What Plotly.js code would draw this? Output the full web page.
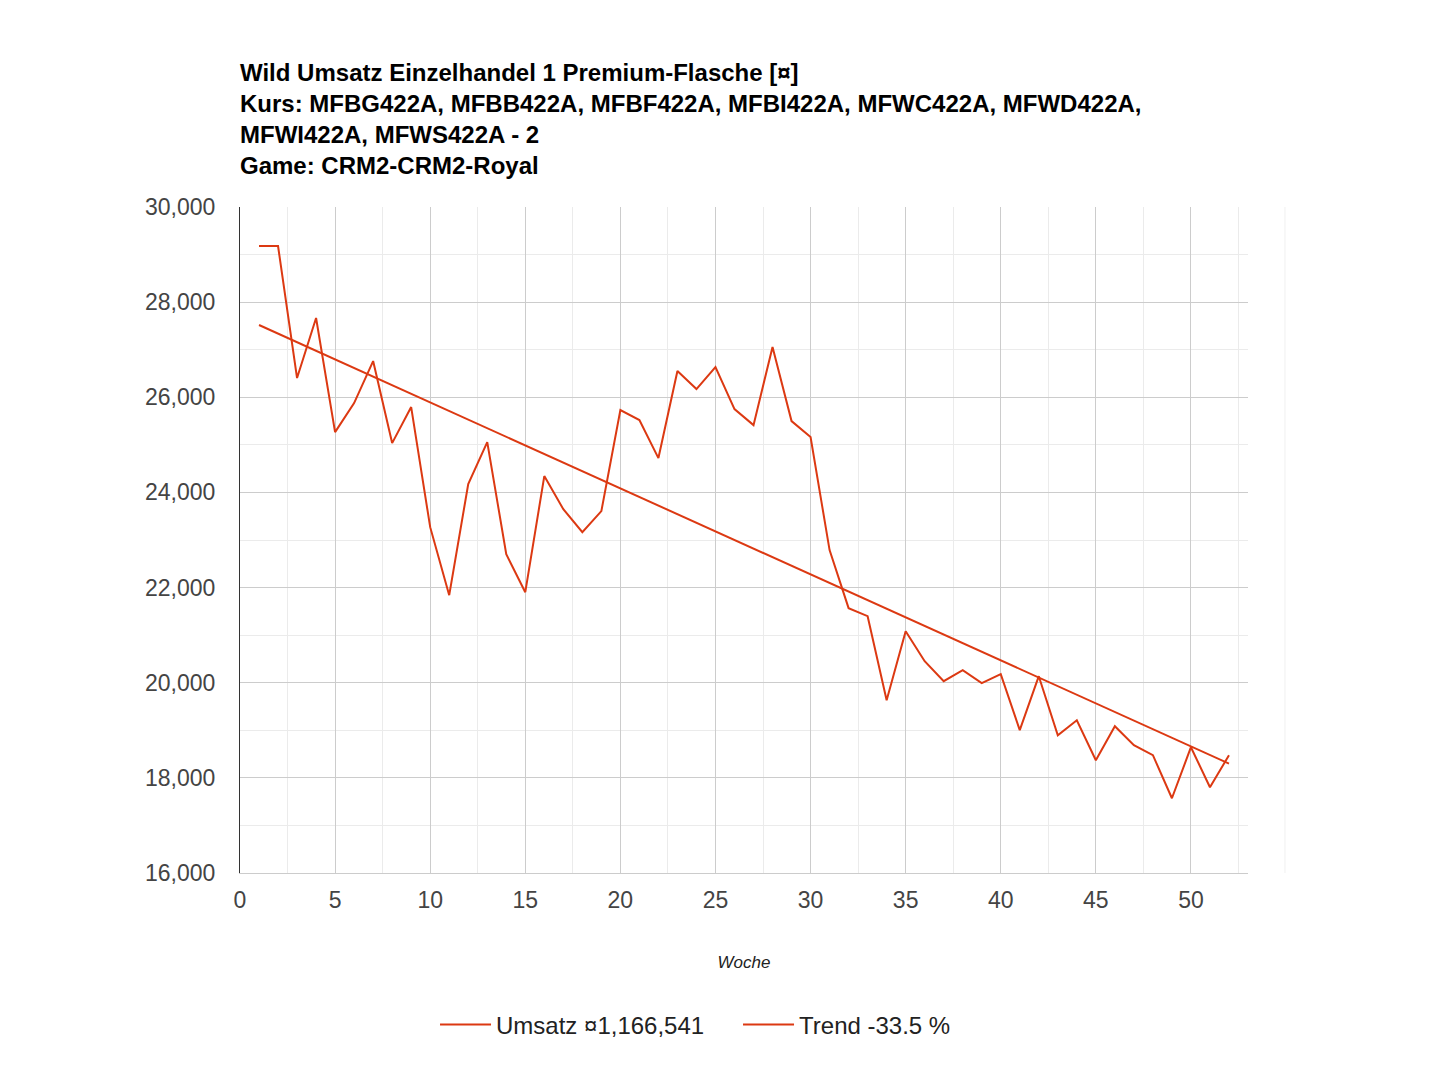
<!DOCTYPE html>
<html>
<head>
<meta charset="utf-8">
<script src="https://cdn.plot.ly/plotly-3.0.1.min.js"></script>
<style>
  html, body { margin: 0; padding: 0; background: #fff; }
  #chart { width: 1440px; height: 1080px; }
</style>
</head>
<body>
<div id="chart"></div>
<script>
var weeks = [1, 2, 3, 4, 5, 6, 7, 8, 9, 10,
  11, 12, 13, 14, 15, 16, 17, 18, 19, 20,
  21, 22, 23, 24, 25, 26, 27, 28, 29, 30,
  31, 32, 33, 34, 35, 36, 37, 38, 39, 40,
  41, 42, 43, 44, 45, 46, 47, 48, 49, 50,
  51, 52];

var umsatz = [29180, 29180, 26404, 27666, 25268, 25878, 26761, 25037, 25794, 23270,
  21840, 24175, 25058, 22702, 21903, 24343, 23649, 23165, 23607, 25731,
  25521, 24722, 26551, 26173, 26635, 25752, 25415, 27056, 25500, 25163,
  22787, 21567, 21399, 19633, 21083, 20452, 20032, 20263, 19990, 20179,
  19002, 20137, 18896, 19212, 18371, 19086, 18686, 18476, 17571, 18644,
  17803, 18476];

var trendWeeks = [1, 52];
var trendValues = [27519, 18301];

var titleLines = [
  'Wild Umsatz Einzelhandel 1 Premium-Flasche [¤]',
  'Kurs: MFBG422A, MFBB422A, MFBF422A, MFBI422A, MFWC422A, MFWD422A,',
  'MFWI422A, MFWS422A - 2',
  'Game: CRM2-CRM2-Royal'
];

var lineColor = '#dc3912';
var fontFamily = 'Arial, "Liberation Sans", sans-serif';

var data = [
  {
    x: weeks,
    y: umsatz,
    name: 'Umsatz ¤1,166,541',
    type: 'scatter',
    mode: 'lines',
    line: { color: lineColor, width: 2 }
  },
  {
    x: trendWeeks,
    y: trendValues,
    name: 'Trend -33.5 %',
    type: 'scatter',
    mode: 'lines',
    line: { color: lineColor, width: 2 }
  }
];

var layout = {
  width: 1440,
  height: 1080,
  paper_bgcolor: '#fff',
  plot_bgcolor: '#fff',
  font: { family: fontFamily, color: '#444' },
  margin: { l: 240, r: 192, t: 207, b: 207 },
  title: {
    text: '<b>' + titleLines.join('<br>') + '</b>',
    font: { size: 24, color: '#000', family: fontFamily },
    xref: 'paper',
    x: 0,
    xanchor: 'left',
    yref: 'container',
    y: 0.9254,
    yanchor: 'top'
  },
  xaxis: {
    range: [0, 53],
    tick0: 0,
    dtick: 5,
    showgrid: true,
    gridcolor: '#cccccc',
    gridwidth: 1,
    minor: { dtick: 2.5, showgrid: true, gridcolor: '#ebebeb' },
    zeroline: false,
    showline: true,
    linecolor: '#cccccc',
    linewidth: 1,
    ticks: '',
    ticklabelstandoff: 6,
    tickfont: { size: 23, color: '#444' },
    title: {
      text: '<i>Woche</i>',
      font: { size: 17, color: '#222' },
      standoff: 44
    }
  },
  yaxis: {
    range: [16000, 30000],
    tick0: 16000,
    dtick: 2000,
    tickformat: ',d',
    showgrid: true,
    gridcolor: '#cccccc',
    gridwidth: 1,
    minor: { dtick: 1000, showgrid: true, gridcolor: '#ebebeb' },
    zeroline: false,
    showline: true,
    linecolor: '#333333',
    linewidth: 1,
    ticks: '',
    ticklabelstandoff: 19,
    tickfont: { size: 23, color: '#444' }
  },
  showlegend: true,
  legend: {
    orientation: 'h',
    xref: 'container',
    x: 0.3021,
    xanchor: 'left',
    yref: 'container',
    y: 0.051,
    yanchor: 'middle',
    font: { size: 24, color: '#222' },
    itemwidth: 51,
    entrywidth: 237
  },
  shapes: [
    {
      type: 'line',
      xref: 'paper',
      yref: 'paper',
      x0: 1.0367,
      x1: 1.0367,
      y0: 0,
      y1: 1,
      line: { color: '#f0f0f0', width: 1 }
    }
  ]
};

Plotly.newPlot('chart', data, layout, { displayModeBar: false, staticPlot: true });
</script>
</body>
</html>
